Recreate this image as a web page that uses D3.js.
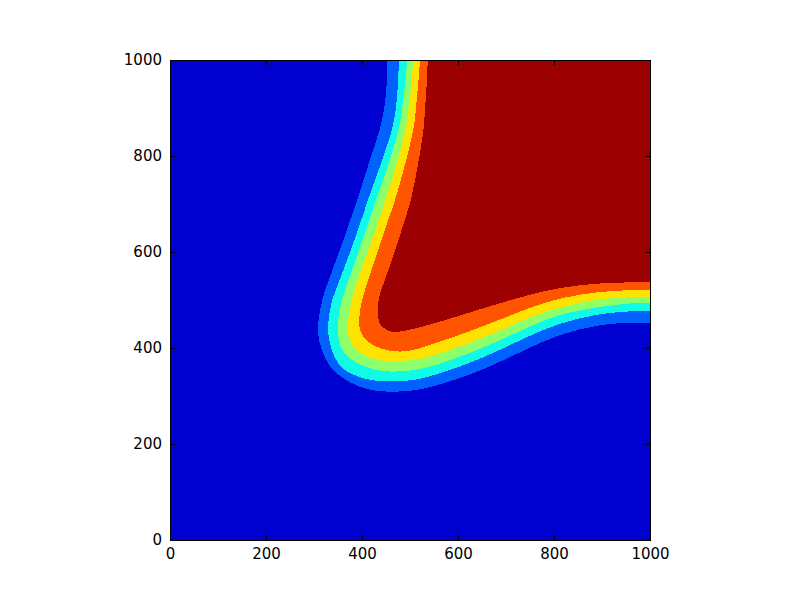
<!DOCTYPE html>
<html>
<head>
<meta charset="utf-8">
<script src="https://cdn.jsdelivr.net/npm/d3@7"></script>
<style>
  body { margin: 0; background: #fff; }
  svg { display: block; }
</style>
</head>
<body>
<svg id="chart" width="800" height="600"></svg>
<script>
// Tick values
const xTicks = [0, 200, 400, 600, 800, 1000];
const yTicks = [0, 200, 400, 600, 800, 1000];

// Band colours (jet colormap, low to high)
const bandColors = ["#0000d1", "#0061ff", "#10fae6", "#8cff6b", "#ffe300", "#ff5500", "#9c0000"];

// Contour boundaries (data coordinates), from top edge to right edge
const level1 = [[452,1000],[452,958],[450,927],[446,894],[437,854],[423,812],[410,771],[390,708],[383,688],[358,615],[323,521],[317,500],[308,458],[308,417],[323,375],[344,348],[375,327],[410,313],[452,308],[500,310],[542,317],[646,350],[750,402],[819,431],[890,448],[958,454],[1000,452]];
const level2 = [[477,1000],[475,948],[471,894],[462,854],[458,838],[435,771],[412,708],[406,688],[381,615],[346,521],[337,500],[329,458],[329,417],[344,375],[360,354],[390,340],[431,329],[500,331],[542,340],[646,375],[750,427],[819,454],[890,471],[958,477],[1000,477]];
const level3 = [[494,1000],[490,948],[483,894],[477,854],[452,771],[429,708],[423,688],[398,615],[365,521],[358,500],[348,458],[350,417],[360,390],[385,369],[423,354],[458,350],[500,352],[542,360],[646,396],[750,446],[819,473],[890,485],[958,494],[1000,494]];
const level4 = [[506,1000],[504,948],[496,894],[492,854],[469,771],[448,708],[444,688],[417,615],[383,521],[379,500],[369,458],[371,417],[385,396],[410,381],[444,371],[500,373],[542,381],[646,417],[750,465],[819,487],[890,502],[958,506],[1000,506]];
const level5 = [[521,1000],[517,948],[512,894],[508,854],[487,771],[469,708],[462,688],[437,615],[406,521],[400,500],[392,458],[396,431],[412,410],[444,396],[473,392],[500,393],[542,406],[646,442],[750,485],[819,506],[890,517],[958,521],[1000,521]];
const level6 = [[537,1000],[535,948],[531,894],[529,854],[515,771],[502,708],[496,688],[473,615],[448,542],[440,521],[433,500],[433,458],[440,444],[458,433],[479,433],[542,448],[646,481],[750,512],[819,527],[890,535],[958,537],[1000,537]];
const boundaries = [level1, level2, level3, level4, level5, level6];

const svg = d3.select("#chart");
const pLeft = 170, pRight = 650, pTop = 60, pBottom = 540;
const x = d3.scaleLinear().domain([0, 1000]).range([pLeft, pRight]);
const y = d3.scaleLinear().domain([0, 1000]).range([pBottom, pTop]);

svg.append("rect").attr("width", 800).attr("height", 600).attr("fill", "#fff");

const g = svg.append("g");
// Lowest band: full domain
g.append("rect")
  .attr("x", x(0)).attr("y", y(1000))
  .attr("width", x(1000) - x(0)).attr("height", y(0) - y(1000))
  .attr("fill", bandColors[0]);

const line = d3.line().x(d => x(d[0])).y(d => y(d[1])).curve(d3.curveBasis);
boundaries.forEach((pts, i) => {
  const path = line(pts) + `L${x(1000)},${y(1000)}Z`;
  g.append("path")
    .attr("d", path)
    .attr("fill", bandColors[i + 1])
    .attr("shape-rendering", "crispEdges");
});

// Axes (ticks inside, on all four sides)
const font = "DejaVu Sans, sans-serif";
const tickLen = 5;
const fmt = d3.format("d");
const axisBottom = d3.axisBottom(x).tickValues(xTicks).tickFormat(fmt).tickSizeInner(-tickLen).tickSizeOuter(0).tickPadding(8);
const axisTop = d3.axisTop(x).tickValues(xTicks).tickSizeInner(-tickLen).tickSizeOuter(0).tickFormat("");
const axisLeft = d3.axisLeft(y).tickValues(yTicks).tickFormat(fmt).tickSizeInner(-tickLen).tickSizeOuter(0).tickPadding(8);
const axisRight = d3.axisRight(y).tickValues(yTicks).tickSizeInner(-tickLen).tickSizeOuter(0).tickFormat("");

function styleAxis(sel) {
  sel.select(".domain").remove();
  sel.selectAll("line").attr("stroke", "#000").attr("stroke-width", 1);
  sel.selectAll("text").attr("fill", "#000").style("font-family", font).style("font-size", "15px");
}
svg.append("g").attr("transform", `translate(0,${pBottom})`).call(axisBottom).call(styleAxis);
svg.append("g").attr("transform", `translate(0,${pTop})`).call(axisTop).call(styleAxis);
svg.append("g").attr("transform", `translate(${pLeft},0)`).call(axisLeft).call(styleAxis);
svg.append("g").attr("transform", `translate(${pRight},0)`).call(axisRight).call(styleAxis);

// Frame
svg.append("rect")
  .attr("x", pLeft).attr("y", pTop)
  .attr("width", pRight - pLeft).attr("height", pBottom - pTop)
  .attr("fill", "none").attr("stroke", "#000").attr("stroke-width", 1)
  .attr("shape-rendering", "crispEdges");
</script>
</body>
</html>
